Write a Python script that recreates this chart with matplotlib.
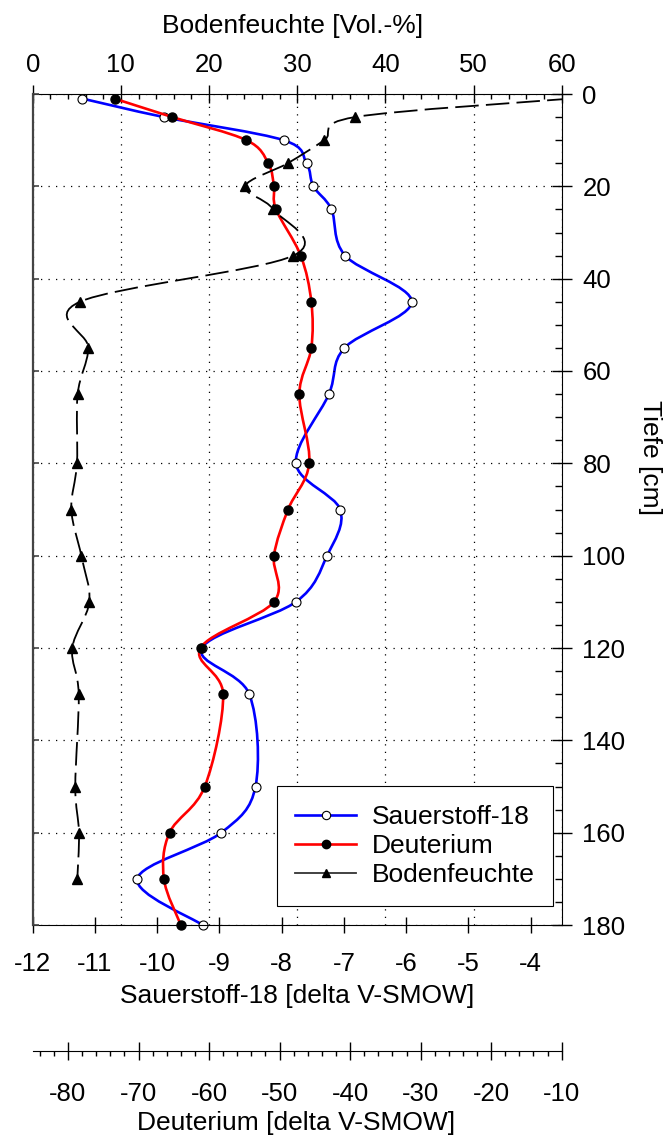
import numpy as np
import matplotlib.pyplot as plt
from matplotlib.path import Path
from matplotlib.patches import PathPatch
from matplotlib.lines import Line2D
from matplotlib.ticker import MultipleLocator

plt.rcParams['font.family'] = ['Liberation Sans', 'DejaVu Sans']
plt.rcParams['axes.unicode_minus'] = False

# Tiefe [cm]
depth = [1, 5, 10, 15, 20, 25, 35, 45, 55, 65, 80, 90, 100, 110, 120, 130, 150, 160, 170, 180]
# Sauerstoff-18 [delta V-SMOW]
o18 = [-11.20, -9.89, -7.97, -7.60, -7.49, -7.20, -6.98, -5.91, -6.99, -7.24,
       -7.77, -7.06, -7.27, -7.77, -9.28, -8.52, -8.42, -8.97, -10.32, -9.27]
# Deuterium [delta V-SMOW]
deut = [-73.4, -65.2, -54.7, -51.6, -50.8, -50.5, -47.0, -45.5, -45.5, -47.2,
        -45.8, -48.8, -50.8, -50.8, -61.2, -58.0, -60.6, -65.6, -66.4, -64.0]
# Bodenfeuchte [Vol.-%]
depth_bf = [1, 5, 10, 15, 20, 25, 35, 45, 55, 65, 80, 90, 100, 110, 120, 130, 150, 160, 170]
bf = [61.0, 36.55, 33.07, 28.92, 24.08, 27.29, 29.56, 5.36, 6.31, 5.10,
      5.02, 4.38, 5.51, 6.42, 4.49, 5.22, 4.83, 5.25, 5.06]


def smooth_path(x, y):
    # Catmull-Rom curve through the points, drawn as cubic Bezier segments
    pts = np.column_stack([x, y]).astype(float)
    ext = np.vstack([pts[0], pts, pts[-1]])
    verts = [pts[0]]
    codes = [Path.MOVETO]
    for i in range(len(pts) - 1):
        p0, p1, p2, p3 = ext[i], ext[i + 1], ext[i + 2], ext[i + 3]
        verts += [p1 + (p2 - p0) / 6, p2 - (p3 - p1) / 6, p2]
        codes += [Path.CURVE4] * 3
    return Path(verts, codes)


W, H = 664, 1138
fig = plt.figure(figsize=(W / 100, H / 100), dpi=100)
ax = fig.add_axes([32.7 / W, 1 - 925 / H, 529 / W, 831 / H])
axb = ax.twiny()   # top axis: Bodenfeuchte ticks + grid
axd = ax.twiny()   # outer bottom axis: Deuterium
axw = ax.twiny()   # Bodenfeuchte data
for i, a in enumerate([axb, ax, axd, axw]):
    a.set_zorder(i + 1)
    a.patch.set_visible(False)

tick_fs = 18.5
grid_ls = (0, (1, 5))

# main axes: Sauerstoff-18 / depth
ax.add_patch(PathPatch(smooth_path(o18, depth), fill=False, ec='#0000ff', lw=1.9))
ax.plot(o18, depth, ls='none', marker='o', ms=6.5, mfc='white', mec='k', mew=0.8, clip_on=False)
ax.set_xlim(-12, -3.5)
ax.set_ylim(180, 0)
ax.xaxis.set_ticks([-12, -11, -10, -9, -8, -7, -6, -5, -4])
ax.tick_params(axis='x', which='major', direction='inout', length=11.5, width=1,
               labelsize=tick_fs, pad=14)
ax.yaxis.tick_right()
ax.yaxis.set_major_locator(MultipleLocator(20))
ax.yaxis.set_minor_locator(MultipleLocator(5))
ax.tick_params(axis='y', which='major', direction='inout', length=14.4, width=1,
               labelsize=tick_fs, pad=7.7)
ax.tick_params(axis='y', which='minor', direction='in', length=5, width=1)
ax.grid(axis='y', ls=grid_ls, color='k', lw=0.9)
ax.spines['left'].set_color('#444444')
ax.spines['left'].set_linewidth(1.6)

# top axis
axb.set_xlim(0, 60)
axb.xaxis.set_major_locator(MultipleLocator(10))
axb.xaxis.set_minor_locator(MultipleLocator(2))
axb.tick_params(axis='x', which='major', direction='inout', length=13, width=1,
                labelsize=tick_fs, pad=5.7)
axb.tick_params(axis='x', which='minor', direction='in', length=3.4, width=1)
axb.grid(axis='x', ls=grid_ls, color='k', lw=0.9)
for s in axb.spines.values():
    s.set_visible(False)

# Deuterium axis
axd.add_patch(PathPatch(smooth_path(deut, depth), fill=False, ec='#ff0000', lw=1.9))
axd.plot(deut, depth, ls='none', marker='o', ms=6.5, mfc='k', mec='k', clip_on=False)
axd.set_xlim(-85, -10)
axd.set_ylim(180, 0)
for name, s in axd.spines.items():
    s.set_visible(name == 'bottom')
axd.spines['bottom'].set_position(('outward', 90.5))
axd.xaxis.set_ticks_position('bottom')
axd.xaxis.set_major_locator(MultipleLocator(10))
axd.xaxis.set_minor_locator(MultipleLocator(2))
axd.tick_params(axis='x', which='major', direction='inout', length=13, width=1,
                labelsize=tick_fs, pad=15.8)
axd.tick_params(axis='x', which='minor', direction='out', length=3.6, width=1)

# Bodenfeuchte data
axw.add_patch(PathPatch(smooth_path(bf, depth_bf), fill=False, ec='k', lw=1.3,
                        ls=(0, (13, 4))))
axw.plot(bf, depth_bf, ls='none', marker='^', ms=7, mfc='k', mec='k')
axw.set_xlim(0, 60)
axw.set_ylim(180, 0)
for s in axw.spines.values():
    s.set_visible(False)
axw.xaxis.set_visible(False)
axw.yaxis.set_visible(True)
axw.tick_params(axis='y', which='major', left=True, right=False, labelleft=False,
                labelright=False, direction='in', length=4, width=1.2, color='#444444')
axw.tick_params(axis='y', which='minor', left=False, right=False)

handles = [
    Line2D([], [], color='#0000ff', lw=1.9, marker='o', ms=6, mfc='white', mec='k', mew=0.8),
    Line2D([], [], color='#ff0000', lw=1.9, marker='o', ms=6, mfc='k', mec='k'),
    Line2D([], [], color='#333333', lw=1.3, marker='^', ms=6, mfc='k', mec='k'),
]
leg = axw.legend(handles, ['Sauerstoff-18', 'Deuterium', 'Bodenfeuchte'],
                 loc='lower right', bbox_to_anchor=(0.984, 0.023), borderaxespad=0,
                 fontsize=19, fancybox=False, edgecolor='k', framealpha=1,
                 handlelength=2.3, handletextpad=0.6, labelspacing=0.2,
                 borderpad=0.7, numpoints=1)
leg.get_frame().set_linewidth(0.8)

fig.text(293 / W, 1 - 25.5 / H, 'Bodenfeuchte [Vol.-%]', fontsize=19, ha='center', va='center')
fig.text(297 / W, 1 - 996 / H, 'Sauerstoff-18 [delta V-SMOW]', fontsize=19, ha='center', va='center')
fig.text(296 / W, 1 - 1123 / H, 'Deuterium [delta V-SMOW]', fontsize=19, ha='center', va='center')
fig.text(650 / W, 1 - 458 / H, 'Tiefe [cm]', fontsize=19, rotation=270, ha='center', va='center')

fig.savefig('out.png', dpi=100)
